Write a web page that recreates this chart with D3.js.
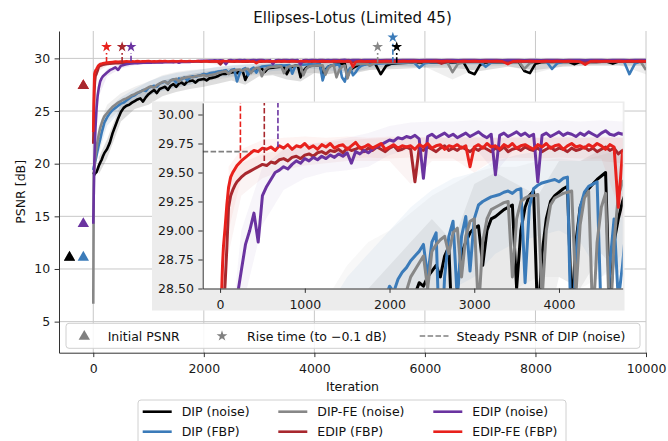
<!DOCTYPE html>
<html>
<head>
<meta charset="utf-8">
<script src="https://cdn.jsdelivr.net/npm/d3@7"></script>
<style>
  body { margin: 0; background: #ffffff; }
  svg text { font-family: "DejaVu Sans", sans-serif; }
</style>
</head>
<body>
<svg id="chart" width="668" height="441"></svg>
<script>
// ---------------------------------------------------------------------------
// Data: PSNR [dB] per logged iteration, mean over runs
// ---------------------------------------------------------------------------
const iterations = [
  0, 10, 20, 30, 40, 60, 80, 100, 125, 150, 175, 200,
  250, 300, 350, 400, 450, 500, 550, 600, 650, 700,
  750, 800, 850, 900, 950, 1000, 1050, 1100, 1150, 1200,
  1250, 1300, 1350, 1400, 1450, 1500, 1550, 1600, 1650, 1700,
  1750, 1800, 1850, 1900, 1950, 2000, 2050, 2100, 2150, 2200,
  2250, 2300, 2350, 2400, 2450, 2500, 2550, 2600, 2650, 2700,
  2750, 2800, 2850, 2900, 2950, 3000, 3050, 3100, 3150, 3200,
  3250, 3300, 3350, 3400, 3450, 3500, 3550, 3600, 3650, 3700,
  3750, 3800, 3850, 3900, 3950, 4000, 4050, 4100, 4150, 4200,
  4250, 4300, 4350, 4400, 4450, 4500, 4550, 4600, 4650, 4700,
  4750, 4800, 4850, 4900, 4950, 5000,
  5100, 5200, 5300, 5400, 5500, 5600, 5700, 5800, 5900, 6000,
  6100, 6200, 6300, 6400, 6500, 6600, 6700, 6800, 6900, 7000,
  7100, 7200, 7300, 7400, 7500, 7600, 7700, 7800, 7900, 8000,
  8100, 8200, 8300, 8400, 8500, 8600, 8700, 8800, 8900, 9000,
  9100, 9200, 9300, 9400, 9500, 9600, 9700, 9800, 9900, 10000
];

const dipNoise = [
  19.0, 19.1, 18.95, 19.05, 19.1, 19.2, 19.5, 19.8, 20.1, 20.35, 20.7, 21.0,
  21.4, 22.0, 22.9, 23.6, 24.3, 24.9, 25.3, 25.5, 25.6, 25.8,
  25.95, 26.1, 26.2, 25.9, 26.3, 26.6, 26.8, 27.0, 26.7, 27.1,
  27.2, 27.3, 27.0, 27.4, 27.55, 27.3, 27.6, 27.7, 27.5, 27.8,
  27.85, 27.9, 27.7, 27.95, 28.0, 28.05, 27.9, 28.1, 28.15, 28.2,
  28.3, 28.45, 28.55, 28.52, 28.6, 28.65, 28.7, 28.6, 28.78, 28.86,
  27.95, 28.5, 28.8, 28.9, 28.98, 29.02, 29.04, 28.7, 29.0, 29.1,
  29.12, 29.15, 29.18, 29.2, 29.22, 28.5, 29.0, 29.2, 29.3, 29.34,
  28.2, 28.8, 29.1, 29.25, 29.3, 29.33, 29.36, 29.38, 28.3, 28.9,
  29.2, 29.3, 29.36, 29.4, 29.44, 29.47, 29.5, 28.3, 28.9, 29.1,
  29.25, 29.35, 29.4, 29.45, 29.5, 29.52,
  29.5, 28.5, 29.3, 29.5, 29.55, 29.57, 29.58, 29.6, 29.59, 29.61,
  29.6, 29.62, 29.61, 29.63, 29.62, 29.64, 29.63, 28.7, 28.5, 29.4,
  29.6, 29.63, 29.64, 29.65, 29.64, 29.66, 29.65, 28.8, 28.6, 29.5,
  29.64, 29.66, 29.65, 29.67, 29.66, 29.68, 29.45, 29.66, 29.67, 29.68,
  29.67, 29.69, 29.68, 29.5, 29.69, 29.68, 29.7, 29.69, 29.7, 29.69
];

const dipFbp = [
  19.4, 19.7, 19.9, 20.1, 20.3, 20.8, 21.3, 21.8, 22.3, 22.9, 23.4, 23.9,
  24.4, 24.8, 25.1, 25.3, 25.5, 25.7, 25.8, 26.0, 26.2, 26.4,
  26.5, 26.7, 26.8, 27.0, 26.9, 27.2, 27.3, 27.4, 27.3, 27.6,
  27.7, 27.8, 27.6, 27.9, 28.0, 27.7, 28.1, 28.0, 28.2, 27.9,
  28.2, 28.3, 28.25, 28.35, 28.42, 28.52, 28.47, 28.58, 28.64, 28.68,
  28.74, 28.78, 28.82, 28.88, 28.6, 28.9, 28.98, 27.8, 28.6, 28.95,
  29.08, 28.4, 28.95, 29.12, 28.65, 29.1, 29.22, 29.25, 29.27, 29.29,
  29.3, 29.31, 29.33, 29.34, 29.32, 29.35, 29.36, 28.55, 29.2, 29.36,
  29.39, 29.41, 29.42, 29.43, 29.44, 29.42, 29.45, 29.46, 27.9, 28.8,
  29.2, 29.33, 29.38, 29.4, 29.42, 28.2, 27.8, 28.7, 29.1, 28.4,
  28.7, 29.1, 29.3, 29.4, 29.45, 29.47,
  29.5, 29.52, 29.55, 29.57, 29.58, 29.6, 29.61, 29.62, 29.1, 29.55,
  29.62, 29.64, 29.65, 29.63, 29.66, 29.65, 29.67, 29.66, 29.68, 29.67,
  29.2, 29.6, 29.66, 29.68, 29.67, 29.69, 29.68, 29.7, 29.69, 29.7,
  29.69, 29.71, 29.0, 29.55, 29.68, 29.7, 29.69, 29.71, 29.7, 29.72,
  29.71, 29.72, 29.7, 29.72, 29.71, 29.73, 28.5, 29.5, 29.7, 29.72
];

const dipFeNoise = [
  6.7, 19.0, 19.6, 20.2, 20.7, 21.5, 22.2, 22.8, 23.4, 23.8, 24.2, 24.5,
  24.8, 25.1, 25.4, 25.6, 25.8, 25.95, 26.1, 26.2, 26.35, 26.5,
  26.6, 26.75, 26.85, 26.95, 27.1, 27.25, 27.35, 27.2, 27.45, 27.6,
  27.75, 27.8, 27.6, 27.9, 28.0, 28.05, 27.8, 28.1, 28.15, 28.2,
  28.25, 28.2, 28.3, 28.35, 28.38, 28.42, 28.3, 28.4, 28.45, 28.48,
  28.6, 28.66, 28.72, 28.78, 28.5, 28.82, 28.88, 28.92, 28.95, 28.8,
  28.98, 29.02, 28.6, 28.95, 29.08, 29.1, 28.3, 28.9, 29.1, 29.18,
  29.2, 29.22, 29.24, 29.25, 28.6, 29.1, 29.25, 29.28, 29.3, 29.3,
  29.31, 28.4, 29.0, 29.22, 29.28, 29.3, 29.32, 29.33, 29.34, 28.45,
  29.05, 29.28, 29.34, 28.2, 28.9, 29.2, 29.32, 28.1, 28.9, 29.3,
  29.42, 29.45, 29.48, 29.5, 29.52, 29.3,
  29.58, 29.6, 29.62, 29.6, 29.63, 29.64, 29.62, 29.65, 29.64, 29.66,
  29.65, 29.66, 29.64, 29.67, 28.7, 29.5, 29.64, 29.66, 29.67, 29.66,
  29.67, 29.68, 29.66, 29.68, 29.67, 29.69, 29.68, 29.0, 29.55, 29.68,
  29.69, 29.68, 29.7, 29.69, 29.71, 29.7, 29.69, 29.71, 29.7, 29.72,
  29.71, 29.7, 29.72, 29.71, 29.7, 29.72, 29.71, 29.73, 29.72, 28.9
];

const edipFbp = [
  21.9, 24.5, 26.8, 27.8, 28.3, 28.55, 28.85, 29.2, 29.3, 29.35, 29.39, 29.42,
  29.46, 29.49, 29.51, 29.53, 29.55, 29.57, 29.56, 29.59, 29.58, 29.61,
  29.62, 29.6, 29.63, 29.64, 29.62, 29.65, 29.66, 29.64, 29.67, 29.68,
  29.66, 29.69, 29.68, 29.7, 29.67, 29.71, 29.69, 29.7, 29.72, 29.68,
  29.71, 29.69, 29.72, 29.7, 29.68, 29.71, 29.73, 29.69, 29.7, 29.72,
  29.7, 29.42, 29.71, 29.69, 29.72, 29.7, 29.68, 29.71, 29.73, 29.69,
  29.71, 29.69, 29.72, 29.7, 29.68, 29.71, 29.69, 29.72, 29.7, 29.68,
  29.71, 29.69, 29.72, 29.68, 29.7, 29.71, 29.69, 29.72, 29.7, 29.69,
  29.71, 29.68, 29.7, 29.72, 29.69, 29.71, 29.7, 29.68, 29.71, 29.69,
  29.7, 29.72, 29.69, 29.71, 29.68, 29.7, 29.72, 29.69, 29.71, 29.66,
  29.69, 29.71, 29.7, 29.72, 29.69, 29.71,
  29.71, 29.69, 29.72, 29.7, 29.68, 29.71, 29.7, 29.72, 29.69, 29.71,
  29.7, 29.72, 29.5, 29.71, 29.69, 29.72, 29.7, 29.68, 29.71, 29.7,
  29.72, 29.69, 29.71, 29.7, 29.72, 29.68, 29.71, 29.7, 29.72, 29.69,
  29.71, 29.7, 29.68, 29.72, 29.7, 29.71, 29.69, 29.72, 29.7, 29.71,
  29.69, 29.72, 29.7, 29.71, 29.68, 29.72, 29.7, 29.71, 29.69, 29.71
];

const edipNoise = [
  14.3, 17.5, 20.2, 22.0, 23.4, 25.3, 26.5, 27.2, 27.8, 28.1, 28.3, 28.42,
  28.65, 28.88, 29.0, 29.15, 28.9, 29.3, 29.38, 29.44, 29.5, 29.52,
  29.55, 29.53, 29.57, 29.6, 29.58, 29.62, 29.6, 29.63, 29.61, 29.64,
  29.62, 29.65, 29.63, 29.66, 29.64, 29.67, 29.58, 29.68, 29.66, 29.69,
  29.67, 29.7, 29.72, 29.74, 29.76, 29.78, 29.77, 29.8, 29.79, 29.81,
  29.8, 29.82, 29.79, 29.45, 29.81, 29.83, 29.8, 29.82, 29.84, 29.81,
  29.83, 29.8, 29.82, 29.84, 29.81, 29.83, 29.85, 29.82, 29.8, 29.83,
  29.48, 29.82, 29.84, 29.81, 29.83, 29.85, 29.82, 29.84, 29.81, 29.83,
  29.42, 29.82, 29.84, 29.81, 29.83, 29.85, 29.82, 29.84, 29.83, 29.81,
  29.84, 29.82, 29.85, 29.83, 29.81, 29.84, 29.86, 29.83, 29.82, 29.84,
  29.83, 29.85, 29.82, 29.84, 29.83, 29.85,
  29.84, 29.82, 29.85, 29.83, 29.81, 29.84, 29.83, 29.85, 29.82, 29.84,
  29.83, 29.85, 29.82, 29.84, 29.83, 29.81, 29.85, 29.83, 29.84, 29.82,
  29.84, 29.83, 29.85, 29.82, 29.84, 29.83, 29.85, 29.81, 29.84, 29.83,
  29.82, 29.85, 29.83, 29.84, 29.82, 29.85, 29.83, 29.84, 29.82, 29.84,
  29.83, 29.85, 29.82, 29.84, 29.83, 29.85, 29.82, 29.84, 29.83, 29.84
];

const edipFeFbp = [
  23.0, 26.5, 28.5, 28.72, 28.86, 29.03, 29.22, 29.37, 29.46, 29.5, 29.53, 29.56,
  29.6, 29.63, 29.66, 29.69, 29.68, 29.71, 29.7, 29.72, 29.69, 29.73,
  29.71, 29.74, 29.7, 29.73, 29.72, 29.75, 29.71, 29.73, 29.7, 29.74,
  29.72, 29.75, 29.71, 29.73, 29.74, 29.7, 29.73, 29.76, 29.71, 29.72,
  29.74, 29.71, 29.73, 29.75, 29.7, 29.72, 29.74, 29.71, 29.73, 29.72,
  29.73, 29.7, 29.74, 29.72, 29.75, 29.71, 29.73, 29.74, 29.7, 29.73,
  29.72, 29.74, 29.71, 29.73, 29.55, 29.72, 29.74, 29.71, 29.75, 29.72,
  29.73, 29.7, 29.74, 29.72, 29.75, 29.71, 29.73, 29.74, 29.72, 29.7,
  29.74, 29.72, 29.75, 29.71, 29.73, 29.74, 29.7, 29.73, 29.75, 29.72,
  29.73, 29.71, 29.74, 29.72, 29.75, 29.73, 29.7, 29.74, 29.72, 29.2,
  29.68, 29.72, 29.74, 29.71, 29.73, 29.72,
  29.74, 29.72, 29.75, 29.73, 29.71, 29.74, 29.73, 29.75, 29.72, 29.74,
  29.73, 29.75, 29.72, 29.74, 29.73, 29.71, 29.75, 29.73, 29.74, 29.72,
  29.74, 29.73, 29.75, 29.72, 29.45, 29.73, 29.74, 29.72, 29.75, 29.73,
  29.72, 29.74, 29.73, 29.75, 29.72, 29.74, 29.73, 29.71, 29.4, 29.73,
  29.74, 29.72, 29.75, 29.73, 29.74, 29.72, 29.75, 29.73, 29.74, 29.73
];

// Spread over runs (lower / upper envelope) on a coarser grid
const bandIterations = [
  100, 250, 500, 750, 1000, 1250, 1500, 1750, 2000, 2250, 2500, 2750, 3000, 3250, 3500,
  3750, 4000, 4250, 4500, 4750, 5000, 5500, 6000, 6500, 7000, 7500, 8000, 8500, 9000, 9500, 10000
];
const dipNoiseLow  = [19.0, 20.5, 24.0, 25.2, 25.6, 26.4, 26.8, 27.1, 27.3, 27.6, 27.9, 27.5, 28.3, 28.4, 28.0, 27.8, 28.6, 28.5, 28.8, 28.6, 28.9, 29.0, 29.1, 29.1, 28.8, 29.2, 28.9, 29.2, 29.3, 29.3, 29.3];
const dipNoiseHigh = [20.6, 22.3, 25.7, 26.6, 27.0, 27.9, 28.2, 28.5, 28.7, 28.9, 29.1, 28.9, 29.4, 29.5, 29.4, 29.3, 29.6, 29.6, 29.7, 29.65, 29.72, 29.75, 29.76, 29.76, 29.7, 29.77, 29.75, 29.78, 29.79, 29.79, 29.79];
const dipFbpLow    = [21.0, 23.6, 25.0, 25.8, 26.5, 26.9, 27.2, 27.5, 27.9, 28.2, 28.3, 28.5, 28.6, 28.8, 28.9, 28.95, 29.0, 28.9, 28.6, 28.7, 29.1, 29.3, 29.2, 29.4, 29.4, 29.4, 29.45, 29.4, 29.5, 29.45, 29.5];
const dipFbpHigh   = [22.6, 25.1, 26.3, 27.1, 27.8, 28.3, 28.6, 28.8, 29.0, 29.2, 29.35, 29.45, 29.5, 29.6, 29.65, 29.68, 29.7, 29.7, 29.72, 29.72, 29.74, 29.76, 29.76, 29.77, 29.78, 29.78, 29.79, 29.79, 29.8, 29.8, 29.8];
const dipFeNoiseLow  = [22.0, 24.0, 25.2, 25.9, 26.4, 27.0, 27.2, 27.5, 27.8, 28.0, 28.2, 28.3, 28.45, 28.5, 28.5, 28.6, 28.6, 28.5, 28.6, 28.8, 28.9, 29.2, 29.2, 28.0, 29.2, 29.3, 28.6, 29.3, 29.4, 29.4, 28.5];
const dipFeNoiseHigh = [23.6, 25.6, 26.7, 27.3, 27.8, 28.4, 28.7, 28.9, 29.0, 29.15, 29.3, 29.4, 29.5, 29.55, 29.55, 29.6, 29.62, 29.6, 29.65, 29.7, 29.7, 29.76, 29.77, 29.6, 29.78, 29.78, 29.79, 29.8, 29.8, 29.8, 29.6];
const edipFbpLow    = [28.8, 29.3, 29.45, 29.52, 29.56, 29.58, 29.6, 29.6, 29.6, 29.4, 29.6, 29.6, 29.6, 29.6, 29.6, 29.6, 29.6, 29.6, 29.6, 29.58, 29.6, 29.6, 29.6, 29.6, 29.6, 29.6, 29.6, 29.6, 29.6, 29.6, 29.6];
const edipFbpHigh   = [29.45, 29.58, 29.66, 29.7, 29.74, 29.76, 29.78, 29.79, 29.8, 29.8, 29.8, 29.8, 29.8, 29.8, 29.8, 29.8, 29.8, 29.8, 29.8, 29.8, 29.8, 29.8, 29.8, 29.8, 29.8, 29.8, 29.8, 29.8, 29.8, 29.8, 29.8];
const edipNoiseLow  = [26.4, 28.3, 29.05, 29.35, 29.45, 29.5, 29.52, 29.55, 29.65, 29.7, 29.72, 29.72, 29.72, 29.5, 29.72, 29.72, 29.72, 29.72, 29.72, 29.72, 29.72, 29.72, 29.72, 29.72, 29.72, 29.72, 29.72, 29.72, 29.72, 29.72, 29.72];
const edipNoiseHigh = [27.9, 29.0, 29.55, 29.7, 29.74, 29.77, 29.8, 29.84, 29.9, 29.93, 29.94, 29.94, 29.95, 29.94, 29.95, 29.94, 29.95, 29.94, 29.95, 29.94, 29.95, 29.94, 29.95, 29.94, 29.95, 29.94, 29.95, 29.94, 29.95, 29.94, 29.95];
const edipFeFbpLow  = [29.0, 29.45, 29.6, 29.62, 29.62, 29.63, 29.62, 29.63, 29.62, 29.63, 29.62, 29.62, 29.5, 29.62, 29.63, 29.62, 29.63, 29.62, 29.62, 29.1, 29.62, 29.63, 29.62, 29.63, 29.62, 29.5, 29.63, 29.62, 29.45, 29.62, 29.63];
const edipFeFbpHigh = [29.55, 29.7, 29.78, 29.8, 29.81, 29.8, 29.81, 29.8, 29.81, 29.8, 29.81, 29.8, 29.81, 29.8, 29.81, 29.8, 29.81, 29.8, 29.81, 29.8, 29.81, 29.8, 29.81, 29.8, 29.81, 29.8, 29.81, 29.8, 29.81, 29.8, 29.81];

// Per-method summary markers (same order as seriesNames)
const seriesNames = ["DIP (noise)", "DIP (FBP)", "DIP-FE (noise)", "EDIP (FBP)", "EDIP (noise)", "EDIP-FE (FBP)"];
const seriesColors = ["#000000", "#3b7bb9", "#878787", "#a8282e", "#6a33a0", "#e8211c"];
const initialIteration = [-430, -180, -430, -180, -180, -180];
const initialPsnr      = [11.1, 11.1, 11.1, 27.4, 14.3, 27.4];
const riseIteration    = [5490, 5420, 5145, 522, 683, 240];
const steadyPsnr       = [29.68, 29.70, 29.70, 29.70, 29.82, 29.72];
const riseMarkerPsnr   = [31.1, 32.0, 31.1, 31.1, 31.1, 31.1];
// drawing order of the initial-PSNR triangles (overlapping ones last on top)
const initialMarkerOrder = [2, 5, 0, 1, 3, 4];
const steadyDipNoise = 29.68;
const steadyGuideEnd = 380;

const xTicks = [0, 2000, 4000, 6000, 8000, 10000];
const yTicks = [5, 10, 15, 20, 25, 30];
const insetXTicks = [0, 1000, 2000, 3000, 4000];
const insetYTicks = [28.5, 28.75, 29.0, 29.25, 29.5, 29.75, 30.0];

const titleText = "Ellipses-Lotus (Limited 45)";

// ---------------------------------------------------------------------------
const values = [dipNoise, dipFbp, dipFeNoise, edipFbp, edipNoise, edipFeFbp];
const bandLow = [dipNoiseLow, dipFbpLow, dipFeNoiseLow, edipFbpLow, edipNoiseLow, edipFeFbpLow];
const bandHigh = [dipNoiseHigh, dipFbpHigh, dipFeNoiseHigh, edipFbpHigh, edipNoiseHigh, edipFeFbpHigh];

const series = seriesNames.map((name, i) => ({
  name, color: seriesColors[i], edip: i >= 3,
  points: iterations.map((it, k) => [it, values[i][k]]),
  band: bandIterations.map((it, k) => [it, bandLow[i][k], bandHigh[i][k]]),
  initial: [initialIteration[i], initialPsnr[i]],
  rise: riseIteration[i], riseLevel: steadyPsnr[i] - 0.1, star: riseMarkerPsnr[i]
}));

const svg = d3.select("#chart");
const FONT = "DejaVu Sans, sans-serif";
const FS = 12.5;
svg.append("rect").attr("width", 668).attr("height", 441).attr("fill", "#fff");

// Main axes frame
const M = { left: 59, right: 646, top: 31, bottom: 352.7 };
const x = d3.scaleLinear().domain([-620, 10000]).range([M.left, M.right]);
const y = d3.scaleLinear().domain([2.05, 32.6]).range([M.bottom, M.top]);

const defs = svg.append("defs");
defs.append("clipPath").attr("id", "clipMain").append("rect")
  .attr("x", M.left).attr("y", M.top).attr("width", M.right - M.left).attr("height", M.bottom - M.top);

// grid
const grid = svg.append("g").attr("stroke", "#c8c8c8").attr("stroke-width", 1);
grid.selectAll(".gx").data(xTicks).join("line")
  .attr("x1", d => x(d)).attr("x2", d => x(d)).attr("y1", M.top).attr("y2", M.bottom);
grid.selectAll(".gy").data(yTicks).join("line")
  .attr("x1", M.left).attr("x2", M.right).attr("y1", d => y(d)).attr("y2", d => y(d));

function drawBands(g, xs, ys, dipAlpha, edipAlpha) {
  const area = d3.area().x(d => xs(d[0])).y0(d => ys(d[1])).y1(d => ys(d[2]));
  g.selectAll(".band").data(series).join("path").attr("class", "band")
    .attr("d", d => area(d.band)).attr("fill", d => d.color)
    .attr("fill-opacity", d => d.edip ? edipAlpha : dipAlpha).attr("stroke", "none");
  return d3.line().x(d => xs(d[0])).y(d => ys(d[1]));
}

const main = svg.append("g").attr("clip-path", "url(#clipMain)");
const mainLine = drawBands(main, x, y, 0.13, 0.1);
main.selectAll(".line").data(series).join("path").attr("class", "line")
  .attr("d", d => mainLine(d.points)).attr("fill", "none").attr("stroke", d => d.color)
  .attr("stroke-width", 2.6).attr("stroke-linejoin", "round").attr("stroke-linecap", "butt");

// rise-time guides and stars
main.selectAll(".rise").data(series).join("line").attr("class", "rise")
  .attr("x1", d => x(d.rise)).attr("x2", d => x(d.rise))
  .attr("y1", d => y(d.riseLevel)).attr("y2", d => y(d.star - 0.6))
  .attr("stroke", d => d.color).attr("stroke-width", 1.6).attr("stroke-dasharray", "5.5,2.4");
main.selectAll(".star").data(series).join("path").attr("class", "star")
  .attr("d", d3.symbol().type(d3.symbolStar).size(36))
  .attr("transform", d => `translate(${x(d.rise)},${y(d.star)})`)
  .attr("fill", d => d.color);
main.selectAll(".init").data(initialMarkerOrder.map(i => series[i])).join("path").attr("class", "init")
  .attr("d", d3.symbol().type(d3.symbolTriangle).size(56))
  .attr("transform", d => `translate(${x(d.initial[0])},${y(d.initial[1])})`)
  .attr("fill", d => d.color);

function styleAxis(g) {
  g.attr("font-family", FONT).attr("font-size", FS);
  g.select(".domain").attr("stroke", "#333").attr("stroke-width", 1);
  g.selectAll(".tick line").attr("stroke", "#333").attr("stroke-width", 1);
  g.selectAll(".tick text").attr("fill", "#1a1a1a");
}

svg.append("g").attr("transform", `translate(${M.left},0)`)
  .call(d3.axisLeft(y).tickValues(yTicks).tickSize(4.4).tickPadding(4.4).tickSizeOuter(0).tickFormat(d3.format("d")))
  .call(styleAxis);
svg.append("g").attr("transform", `translate(0,${M.bottom})`)
  .call(d3.axisBottom(x).tickValues(xTicks).tickSize(4.4).tickPadding(7.2).tickSizeOuter(0).tickFormat(d3.format("d")))
  .call(styleAxis);

svg.append("text").attr("x", (M.left + M.right) / 2).attr("y", 23).attr("text-anchor", "middle")
  .attr("font-size", 15).attr("fill", "#111").text(titleText);
svg.append("text").attr("x", (M.left + M.right) / 2).attr("y", 391).attr("text-anchor", "middle")
  .attr("font-size", FS).attr("fill", "#111").text("Iteration");
svg.append("text").attr("transform", `translate(25,${(M.top + M.bottom) / 2}) rotate(-90)`)
  .attr("text-anchor", "middle").attr("font-size", FS).attr("fill", "#111").text("PSNR [dB]");

// Marker legend inside the main axes
const mk = svg.append("g");
mk.append("rect").attr("x", 66).attr("y", 323.3).attr("width", 574).attr("height", 25).attr("rx", 3)
  .attr("fill", "#fff").attr("fill-opacity", 0.85).attr("stroke", "#d0d0d0");
mk.append("path").attr("d", d3.symbol().type(d3.symbolTriangle).size(56)())
  .attr("transform", "translate(84.3,336.5)").attr("fill", "#808080");
mk.append("text").attr("x", 107.7).attr("y", 340.6).attr("font-size", FS).attr("fill", "#111").text("Initial PSNR");
mk.append("path").attr("d", d3.symbol().type(d3.symbolStar).size(36)())
  .attr("transform", "translate(222,336)").attr("fill", "#808080");
mk.append("text").attr("x", 247).attr("y", 340.6).attr("font-size", FS).attr("fill", "#111").text("Rise time (to \u22120.1 dB)");
mk.append("line").attr("x1", 419.7).attr("x2", 448.5).attr("y1", 336).attr("y2", 336)
  .attr("stroke", "#808080").attr("stroke-width", 1.6).attr("stroke-dasharray", "5.5,2.4");
mk.append("text").attr("x", 456.5).attr("y", 340.6).attr("font-size", FS).attr("fill", "#111").text("Steady PSNR of DIP (noise)");

// Series legend below the axes
const lg = svg.append("g");
lg.append("rect").attr("x", 138).attr("y", 400).attr("width", 428).attr("height", 50).attr("rx", 3)
  .attr("fill", "#fff").attr("stroke", "#d0d0d0");
const colX = [142.7, 278.3, 433.3];
const rowY = [411.7, 431.7];
series.forEach((s, i) => {
  const cx = colX[Math.floor(i / 2)], cy = rowY[i % 2];
  lg.append("line").attr("x1", cx).attr("x2", cx + 29).attr("y1", cy).attr("y2", cy)
    .attr("stroke", s.color).attr("stroke-width", 2.6);
  lg.append("text").attr("x", cx + 39).attr("y", cy + 4.6).attr("font-size", FS).attr("fill", "#111").text(s.name);
});

// ---------------------------------------------------------------------------
// Inset: zoom on the plateau
const I = { left: 202.7, right: 622.7, top: 102.9, bottom: 288.5 };
const xi = d3.scaleLinear().domain([-205, 4752]).range([I.left, I.right]);
const yi = d3.scaleLinear().domain([28.5, 30.1]).range([I.bottom, I.top]);
defs.append("clipPath").attr("id", "clipInset").append("rect")
  .attr("x", I.left).attr("y", I.top).attr("width", I.right - I.left).attr("height", I.bottom - I.top);

svg.append("rect").attr("x", 152).attr("y", 101.5).attr("width", 472.5).attr("height", 209)
  .attr("fill", "#ececec");
svg.append("rect").attr("x", I.left).attr("y", I.top).attr("width", I.right - I.left).attr("height", I.bottom - I.top)
  .attr("fill", "#fff");

const inset = svg.append("g").attr("clip-path", "url(#clipInset)");
const insetLine = drawBands(inset, xi, yi, 0.06, 0.05);
inset.append("line").attr("x1", I.left).attr("x2", xi(steadyGuideEnd))
  .attr("y1", yi(steadyDipNoise)).attr("y2", yi(steadyDipNoise))
  .attr("stroke", "#808080").attr("stroke-width", 1.6).attr("stroke-dasharray", "5.5,2.4");
inset.selectAll(".line").data(series).join("path").attr("class", "line")
  .attr("d", d => insetLine(d.points)).attr("fill", "none").attr("stroke", d => d.color)
  .attr("stroke-width", 3).attr("stroke-linejoin", "round");
inset.selectAll(".rise").data(series.filter(s => s.rise < 4752)).join("line").attr("class", "rise")
  .attr("x1", d => xi(d.rise)).attr("x2", d => xi(d.rise))
  .attr("y1", d => yi(d.riseLevel)).attr("y2", I.top)
  .attr("stroke", d => d.color).attr("stroke-width", 1.6).attr("stroke-dasharray", "5.5,2.4");

svg.append("g").attr("transform", `translate(${I.left},0)`)
  .call(d3.axisLeft(yi).tickValues(insetYTicks).tickSize(4.4).tickPadding(4.4).tickSizeOuter(0).tickFormat(d3.format(".2f")))
  .call(styleAxis);
svg.append("g").attr("transform", `translate(0,${I.bottom})`)
  .call(d3.axisBottom(xi).tickValues(insetXTicks).tickSize(4.4).tickPadding(7.2).tickSizeOuter(0).tickFormat(d3.format("d")))
  .call(styleAxis);
</script>
</body>
</html>
